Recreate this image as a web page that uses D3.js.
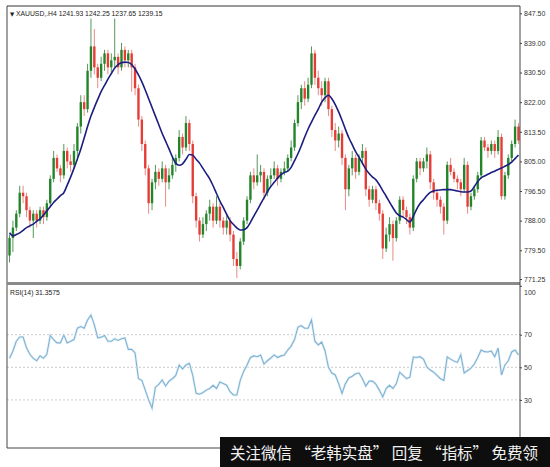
<!DOCTYPE html>
<html><head><meta charset="utf-8">
<script src="https://cdn.jsdelivr.net/npm/d3@7"></script>
<style>body{margin:0;background:#fff}</style></head>
<body><svg id="c" width="550" height="467"></svg>
<script>
const firstOpen = 778;
const closes = [783,786,790,796,795,791,788,790,788,791,
789,793,800,806,803,801,808,805,804,808,
815,822,820,831,838,832,829,833,836,832,
834,835,832,837,834,836,832,826,817,810,
803,793,799,802,800,803,799,801,804,806,
812,809,816,810,795,788,784,787,790,792,
788,792,788,786,788,784,777,775,782,788,
794,801,799,801,802,796,800,801,803,800,
802,803,806,809,816,822,826,823,827,836,
829,826,824,828,820,814,811,813,806,797,
803,806,802,806,808,797,794,797,793,790,
780,784,787,783,788,794,791,789,786,800,
805,803,805,807,799,796,794,792,788,804,
802,800,799,797,804,792,795,797,801,811,
809,808,810,808,812,795,801,806,810,815,
811];
const highs = [784,788,791,798,798,796,792,791,791,792,
792,794,801,808,807,804,810,809,807,810,
816,824,824,833,846,843,833,835,837,837,
836,846,836,839,838,837,837,833,827,818,
811,804,800,804,803,805,804,803,806,807,
814,813,818,817,811,796,789,789,791,794,
793,795,793,789,790,789,785,779,783,789,
795,802,803,807,804,803,801,803,805,804,
803,805,807,811,817,824,827,828,829,838,
837,831,828,829,829,821,816,815,814,807,
804,808,807,807,810,809,798,798,798,794,
791,786,789,788,789,795,795,792,790,801,
806,806,806,809,808,800,797,795,793,805,
806,803,801,800,806,805,796,798,802,812,
812,810,811,811,814,813,802,807,811,817,
816];
const lows = [776,779,785,789,793,789,786,783,786,787,
787,788,792,799,802,799,800,803,802,803,
806,813,818,819,829,830,826,828,831,830,
830,832,830,831,832,832,825,824,815,808,
801,790,791,797,798,799,792,797,800,802,
805,807,808,808,793,786,782,783,785,788,
786,787,786,784,784,782,775,771.5,774,781,
787,793,797,798,799,794,795,798,800,798,
799,801,802,805,808,815,820,821,822,826,
827,824,821,822,818,812,808,809,804,791,
795,801,800,801,804,795,792,793,791,788,
777,779,782,776.5,782,787,789,787,784,785,
799,801,802,803,797,794,792,790,784,787,
801,799,797,795,796,790,791,794,796,800,
808,806,807,806,807,794,794,800,805,809,
810];
const maValues = [784.5,783.6,784,784.5,785.2,786,786.5,787,787.8,788.5,
789.6,790.8,792,793.2,794.2,795.2,796,798.2,800.5,803,
805.7,808.5,811.7,815,818,820.5,822.8,825,826.8,828.6,
830.2,831.8,832.8,833.3,833.5,833.4,832.8,831.5,829.8,827.8,
825.5,823,820.5,818,815.5,813,810.8,808.6,806.3,804.5,
803.9,804.3,805.6,807,806.8,805.6,804.5,803,801.5,800,
798,795.8,793.6,791.8,789.8,788,786.9,785.9,785.3,785.4,
786,787.5,789.3,791,792.8,794.5,796.3,797.8,799,800.2,
801.2,801.8,802.2,803.3,805.2,807.2,809.5,812,814.3,816.3,
818.2,820,822,823.3,824,823,821.3,819.2,816.8,814.2,
811.8,809.8,807.8,806.2,804.5,802.8,801.5,800.5,799.7,798.3,
796.6,795,793.3,791.7,790.2,789.4,789,788.3,787.6,789.2,
791.3,792.9,794,795.2,796.1,796.5,796.7,796.8,796.9,796.9,
796.9,796.7,796.5,796.3,796.2,796.2,796.5,797.8,799.2,800.3,
800.8,801.3,801.8,802.2,802.7,803.1,803.6,804.1,804.8,805.8,
806.8];
const rsiValues = [55.5,60,66,68.6,68.6,62,58,55.5,54,57,
55.5,58,69.5,67,65,65,69.8,64.9,66,67,
74,75,74,79,82,76,68,68.5,69.5,66,
66,67.5,66.5,67.5,68,61,61,58.8,43,42,
36,30,25,37.8,39.5,42.2,38.5,41.5,43,45,
51.4,49,51.4,52.5,45,34,33.5,34.5,36,37,
39,37,41,40,39,35,33,33,42,47.5,
51.4,56,57,56.5,57.5,52,54,55.7,57.6,56,
57,57.6,60.6,63,67,74.7,75.5,74,74,79,
66,63.7,65.5,60,50,46.5,45.3,40,34,40,
43.5,44.5,46,46.5,43,38.5,41.5,41.5,39.5,36,
31.8,37,39,37,40,47,45,43,44,56.3,
56,56.5,55,50.2,48.3,47,45,43,42,56.3,
55,53.8,53,57.6,46.5,48,49.5,52,56,60.6,
59.6,59.4,60,56.5,61.8,45.3,51.4,54,59.4,60.6,
57.6];
const priceTicks = [847.5,839,830.5,822,813.5,805,796.5,788,779.5,771.25];
const rsiTicks = [100,70,50,30];
const rsiLevels = [70,50,30];
const titleText = "XAUUSD,.H4  1241.93 1242.25 1237.65 1239.15";
const rsiTitle = "RSI(14) 31.3575";
const watermark = "关注微信 “老韩实盘” 回复 “指标” 免费领";

(function(){
const n = closes.length;
const candles = closes.map((c,i)=>({i, o: i===0?firstOpen:closes[i-1], c, h: highs[i], l: lows[i]}));

const svg = d3.select('#c');
svg.append('rect').attr('width',550).attr('height',467).attr('fill','#fff');

const L=7, R=520, topY=6, sepY=282, rsiBottom=448;
const x = d3.scaleBand().domain(d3.range(n)).range([8,520]).paddingInner(0.3).paddingOuter(0.1);
const yP = d3.scaleLinear().domain([771.25,847.5]).range([279,13.3]);
const yR = d3.scaleLinear().domain([0,100]).range([448.8,285.8]);
const cx = i => x(i)+x.bandwidth()/2;

const defs = svg.append('defs');
defs.append('clipPath').attr('id','mainclip').append('rect').attr('x',L).attr('y',topY).attr('width',R-L).attr('height',sepY-topY);
defs.append('clipPath').attr('id','rsiclip').append('rect').attr('x',L).attr('y',285).attr('width',R-L).attr('height',rsiBottom-285);

const green='#23842a', red='#e53c36';
const gC = svg.append('g').attr('clip-path','url(#mainclip)');
gC.selectAll('line.w').data(candles).join('line')
  .attr('x1',d=>cx(d.i)).attr('x2',d=>cx(d.i))
  .attr('y1',d=>yP(d.h)).attr('y2',d=>yP(d.l))
  .attr('stroke',d=>d.c>=d.o?'#55985a':'#e98a86').attr('stroke-width',1);
gC.selectAll('rect.b').data(candles).join('rect')
  .attr('x',d=>x(d.i)).attr('width',x.bandwidth())
  .attr('y',d=>yP(Math.max(d.o,d.c)))
  .attr('height',d=>Math.max(1,Math.abs(yP(d.o)-yP(d.c))))
  .attr('fill',d=>d.c>=d.o?green:red);

gC.append('path').datum(maValues)
  .attr('d',d3.line().x((d,i)=>cx(i)).y(d=>yP(d)).curve(d3.curveMonotoneX))
  .attr('fill','none').attr('stroke','#1b1e80').attr('stroke-width',1.6);

const gR = svg.append('g').attr('clip-path','url(#rsiclip)');
gR.selectAll('line.lv').data(rsiLevels).join('line')
  .attr('x1',L).attr('x2',R).attr('y1',d=>yR(d)).attr('y2',d=>yR(d))
  .attr('stroke','#bdbdbd').attr('stroke-width',0.8).attr('stroke-dasharray','2,2');
gR.append('path').datum(rsiValues)
  .attr('d',d3.line().x((d,i)=>cx(i)).y(d=>yR(d)))
  .attr('fill','none').attr('stroke','#e4f0f7').attr('stroke-width',2.6);
gR.append('path').datum(rsiValues)
  .attr('d',d3.line().x((d,i)=>cx(i)).y(d=>yR(d)))
  .attr('fill','none').attr('stroke','#7fb2d2').attr('stroke-width',1.1);

svg.append('line').attr('x1',L).attr('x2',R).attr('y1',topY).attr('y2',topY).attr('stroke','#333').attr('stroke-width',1);
svg.append('line').attr('x1',L).attr('x2',L).attr('y1',topY).attr('y2',rsiBottom).attr('stroke','#444').attr('stroke-width',1);
svg.append('line').attr('x1',L).attr('x2',R).attr('y1',rsiBottom).attr('y2',rsiBottom).attr('stroke','#444').attr('stroke-width',1);
svg.append('rect').attr('x',L).attr('y',sepY).attr('width',R-L).attr('height',3).attr('fill','#8a8a8a');
svg.append('line').attr('x1',R).attr('x2',R).attr('y1',topY).attr('y2',467).attr('stroke','#444').attr('stroke-width',1);

const font = "'Liberation Sans', Arial, sans-serif";
const pAxis = svg.append('g').attr('transform',`translate(${R},0)`)
  .call(d3.axisRight(yP).tickValues(priceTicks).tickFormat(d3.format('.2f')).tickSize(2).tickPadding(2));
const rAxis = svg.append('g').attr('transform',`translate(${R},0)`)
  .call(d3.axisRight(yR).tickValues(rsiTicks).tickFormat(d3.format('d')).tickSize(2).tickPadding(2));
[pAxis,rAxis].forEach(g=>{
  g.select('.domain').remove();
  g.selectAll('text').attr('font-family',font).attr('font-size',7).attr('fill','#333');
  g.selectAll('line').attr('stroke','#444');
});
rAxis.selectAll('.tick').filter(d=>d===100).select('text').attr('y',6);

const t = svg.append('text').attr('x',10).attr('y',16).attr('font-family',font).attr('font-size',6.8).attr('fill','#222');
t.append('tspan').attr('font-family','DejaVu Sans').attr('font-size',5.5).text('▼ ');
t.append('tspan').text(titleText);
svg.append('text').attr('x',10).attr('y',295).attr('font-family',font).attr('font-size',6.8).attr('fill','#222').text(rsiTitle);

svg.append('rect').attr('x',220).attr('y',437).attr('width',330).attr('height',30).attr('fill','#0e0e0e');
svg.append('text').attr('x',230).attr('y',459).attr('font-family',"'Noto Sans CJK SC'").attr('font-size',16)
  .attr('fill','#f2f2f2').attr('textLength',308).attr('lengthAdjust','spacingAndGlyphs').text(watermark);
})();
</script>
</body></html>
